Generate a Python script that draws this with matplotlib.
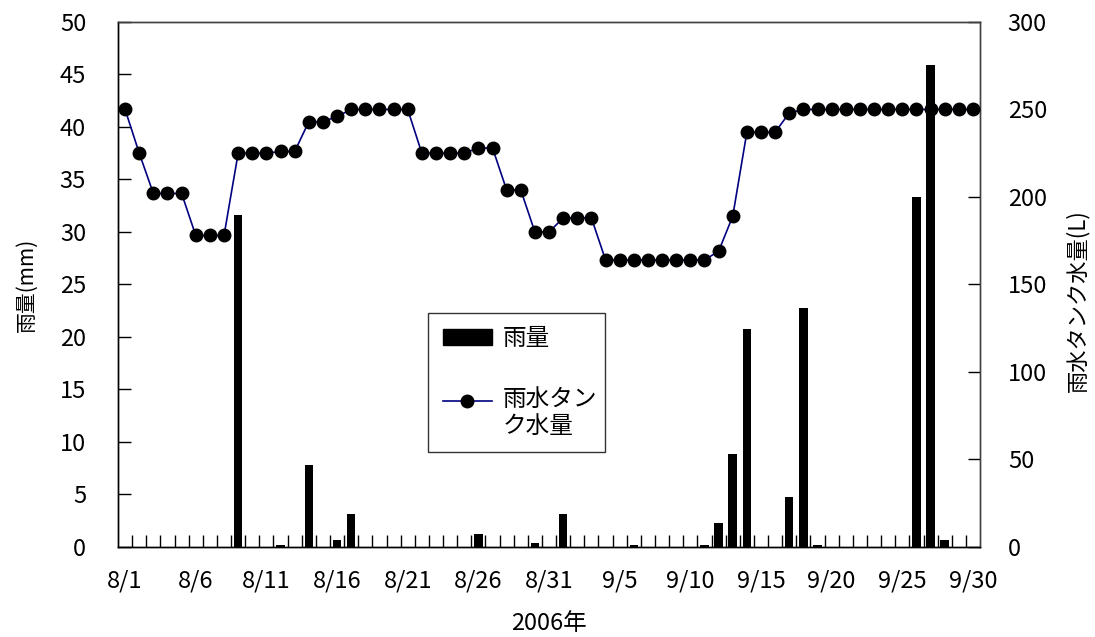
import matplotlib
matplotlib.use("Agg")
import matplotlib.pyplot as plt
from matplotlib.patches import Patch
from matplotlib.lines import Line2D
from matplotlib.legend_handler import HandlerLine2D
import numpy as np

plt.rcParams['font.family'] = ['Noto Sans CJK JP', 'DejaVu Sans']

# Daily data, 2006-08-01 .. 2006-09-30
days = (["8/%d" % d for d in range(1, 32)] +
        ["9/%d" % d for d in range(1, 31)])

# Daily rainfall (mm)
rain = [0, 0, 0, 0, 0, 0, 0, 0, 31.6, 0,
        0, 0.2, 0, 7.8, 0, 0.7, 3.1, 0, 0, 0,
        0, 0, 0, 0, 0, 1.2, 0, 0, 0, 0.4,
        0, 3.1, 0, 0, 0, 0, 0.2, 0, 0, 0,
        0, 0.2, 2.3, 8.9, 20.8, 0, 0, 4.8, 22.8, 0.2,
        0, 0, 0, 0, 0, 0, 33.3, 45.9, 0.7, 0,
        0]

# Rainwater tank storage (L)
tank = [250, 225, 202, 202, 202, 178, 178, 178, 225, 225,
        225, 226, 226, 243, 243, 246, 250, 250, 250, 250,
        250, 225, 225, 225, 225, 228, 228, 204, 204, 180,
        180, 188, 188, 188, 164, 164, 164, 164, 164, 164,
        164, 164, 169, 189, 237, 237, 237, 248, 250, 250,
        250, 250, 250, 250, 250, 250, 250, 250, 250, 250,
        250]

x = np.arange(len(days))
label_idx = list(range(0, len(days), 5))


class TopAlignedLine(HandlerLine2D):
    """Line handle aligned with the first line of a two-line label."""
    def __init__(self, shift, **kw):
        super().__init__(**kw)
        self.shift = shift

    def create_artists(self, legend, orig_handle, xdescent, ydescent,
                       width, height, fontsize, trans):
        return super().create_artists(legend, orig_handle, xdescent,
                                      ydescent - 2 * self.shift, width,
                                      height, fontsize, trans)


fig = plt.figure(figsize=(10.95, 6.37), dpi=100)
ax = fig.add_axes([0.1078, 0.1413, 0.7872, 0.8242])
ax2 = ax.twinx()

ax.bar(x, rain, width=0.6, color='black', zorder=2)
ax2.plot(x, tank, color='#000080', lw=1.2, marker='o', ms=9,
         markerfacecolor='black', markeredgecolor='black', zorder=3)

ax.set_xlim(-0.5, len(days) - 0.5)
ax.set_ylim(0, 50)
ax2.set_ylim(0, 300)
ax.set_yticks(np.arange(0, 51, 5))
ax2.set_yticks(np.arange(0, 301, 50))

ax.set_xticks(label_idx)
ax.set_xticklabels([days[i] for i in label_idx])
ax.tick_params(axis='x', length=0, pad=16, labelsize=17)
ax.set_xticks(np.arange(0.5, len(days) - 1, 1.0), minor=True)
ax.tick_params(axis='x', which='minor', direction='in', length=9,
               width=1, color='black')

ax.tick_params(axis='y', direction='in', length=9, width=1,
               labelsize=17, pad=23)
ax2.tick_params(axis='y', direction='in', length=9, width=1,
                labelsize=17, pad=20)

for a in (ax, ax2):
    for s in a.spines.values():
        s.set_color('#404040')
        s.set_linewidth(1)
    a.spines['bottom'].set_color('black')
    a.spines['left'].set_color('black')

ax.set_ylabel("雨量(mm)", fontsize=15, labelpad=16)
ax2.set_ylabel("雨水タンク水量(L)", fontsize=16)
ax2.yaxis.set_label_coords(1.099, 0.47)
ax.set_xlabel("2006年", fontsize=17, labelpad=14)

line_handle = Line2D([0], [0], color='#000080', lw=1.2, marker='o', ms=9,
                     markerfacecolor='black', markeredgecolor='black')
handles = [Patch(facecolor='black', edgecolor='black'), line_handle]
leg = ax2.legend(handles, ["雨量", "雨水タン\nク水量"],
                 loc='lower left', bbox_to_anchor=(0.36, 0.181, 0.205, 0.267),
                 mode='expand', borderaxespad=0, fontsize=17, frameon=True,
                 fancybox=False, edgecolor='black', handlelength=2.1,
                 handleheight=0.7, labelspacing=1.6, borderpad=0.6,
                 handletextpad=0.45,
                 handler_map={line_handle: TopAlignedLine(shift=9)})
leg.get_frame().set_linewidth(1)

fig.savefig("out.png", dpi=100)
